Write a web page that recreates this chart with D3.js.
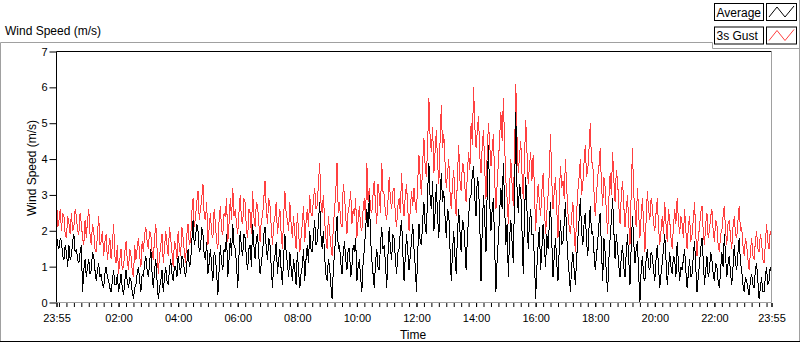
<!DOCTYPE html>
<html>
<head>
    <meta charset="utf-8">
    <title>Wind Speed (m/s)</title>
    <script src="https://d3js.org/d3.v7.min.js"></script>
    <style>
        body {
            margin: 0;
            background: #fff;
            font-family: "Liberation Sans", Arial, sans-serif;
        }

        svg text {
            fill: #000;
        }

        .axis path {
            display: none;
        }

        .axis line {
            stroke: #000;
        }

        .plot-line {
            shape-rendering: crispEdges;
        }
    </style>
</head>
<body>
    <div id="chart"></div>
    <script>
        // one sample every 2.5 minutes, from 23:55 to 23:55 the next day
        const stepMinutes = 2.5

        // 3s gust (m/s), one row per hour
        const gust = [
            2.9, 2.1, 2.3, 2.6, 2.0, 2.5, 2.4, 1.9, 1.8, 2.4, 2.2, 1.9, 2.5, 2.0, 2.1, 2.6, 2.4, 2.0, 1.9, 2.5, 2.2, 1.8, 1.6, 2.3,
            1.8, 2.3, 2.6, 1.9, 1.6, 2.2, 2.0, 1.5, 1.4, 1.9, 2.4, 1.6, 1.7, 2.0, 1.3, 1.7, 1.9, 1.2, 1.5, 1.8, 1.2, 1.6, 2.2, 1.3,
            1.1, 1.6, 0.8, 1.2, 1.5, 0.9, 1.0, 1.4, 1.7, 1.2, 0.9, 1.5, 1.3, 0.9, 0.7, 1.6, 1.2, 1.5, 1.8, 1.3, 1.0, 1.7, 1.4, 1.9,
            2.1, 1.7, 1.5, 2.0, 1.9, 1.4, 1.2, 1.8, 2.2, 1.5, 0.8, 1.3, 1.6, 1.9, 1.1, 1.5, 2.0, 1.6, 1.3, 2.1, 1.8, 1.4, 1.0, 1.7,
            1.6, 1.2, 2.0, 1.5, 1.3, 2.1, 1.8, 1.4, 1.1, 1.9, 2.2, 1.6, 1.7, 2.5, 2.9, 2.1, 2.4, 2.8, 3.1, 2.3, 2.6, 2.9, 3.3, 2.4,
            2.3, 2.8, 1.6, 2.1, 2.5, 1.9, 1.8, 2.6, 2.2, 1.7, 1.5, 2.3, 2.7, 2.0, 1.9, 2.5, 2.4, 2.9, 1.7, 2.2, 2.9, 2.3, 3.2, 2.4,
            2.6, 2.2, 1.9, 2.5, 3.0, 2.3, 2.2, 2.9, 2.8, 2.0, 1.8, 2.6, 2.5, 1.9, 3.1, 2.4, 2.1, 2.8, 2.7, 2.2, 1.7, 2.3, 2.4, 2.9,
            3.4, 2.6, 2.2, 2.9, 2.7, 2.1, 1.6, 2.2, 2.4, 2.8, 1.9, 2.3, 2.6, 1.9, 1.5, 2.4, 3.1, 2.5, 2.3, 2.0, 2.8, 2.2, 1.8, 2.4,
            1.9, 1.5, 2.5, 2.0, 1.4, 1.8, 2.2, 2.7, 1.7, 2.2, 2.6, 2.1, 3.0, 2.5, 2.4, 2.9, 3.2, 2.6, 2.7, 3.3, 3.9, 2.8, 2.5, 3.0,
            2.3, 1.8, 1.5, 2.4, 2.0, 1.6, 1.3, 2.1, 2.6, 3.1, 3.9, 2.5, 2.8, 2.2, 2.1, 3.3, 3.0, 2.4, 1.9, 2.6, 2.7, 3.1, 2.2, 2.6,
            2.4, 2.9, 1.8, 2.3, 2.7, 2.1, 2.0, 2.6, 2.9, 2.3, 3.9, 2.8, 3.2, 2.6, 2.5, 3.0, 3.4, 2.7, 2.2, 3.3, 3.0, 2.5, 3.9, 3.1,
            3.0, 2.5, 2.3, 2.8, 3.5, 2.9, 2.6, 3.1, 3.2, 2.4, 2.1, 2.7, 2.9, 2.5, 3.6, 2.8, 2.4, 3.0, 3.3, 2.6, 2.0, 2.6, 3.1, 2.7,
            3.2, 2.7, 2.5, 3.4, 4.1, 3.5, 3.0, 3.9, 4.6, 3.8, 3.5, 4.4, 5.7, 4.6, 4.2, 4.9, 3.6, 4.2, 4.8, 3.9, 3.3, 4.5, 5.5, 4.3,
            4.7, 3.9, 3.2, 3.6, 4.0, 3.1, 2.6, 3.3, 3.7, 2.9, 2.4, 3.5, 4.4, 3.4, 3.1, 3.9, 3.8, 3.2, 2.8, 3.6, 4.2, 3.7, 5.0, 4.4,
            6.0, 4.9, 4.3, 4.8, 5.2, 4.1, 3.6, 4.4, 4.8, 3.7, 2.9, 4.2, 5.0, 4.4, 3.8, 4.3, 4.7, 3.4, 2.6, 3.3, 3.9, 4.6, 5.3, 4.5,
            5.7, 4.4, 3.4, 2.9, 2.2, 3.2, 4.0, 3.3, 2.7, 4.1, 6.1, 4.6, 3.6, 4.1, 4.5, 3.6, 2.9, 4.0, 5.1, 4.2, 3.3, 3.8, 4.2, 3.4,
            4.1, 3.2, 2.0, 2.7, 3.3, 2.8, 2.4, 3.1, 3.6, 2.7, 1.9, 2.5, 3.0, 3.6, 4.7, 3.4, 2.6, 3.1, 3.5, 2.6, 1.8, 2.9, 3.8, 3.2,
            3.4, 2.9, 4.0, 3.2, 2.5, 2.1, 1.9, 2.4, 2.8, 2.0, 1.4, 2.5, 3.1, 3.5, 4.0, 3.0, 3.3, 3.9, 4.4, 3.5, 3.7, 4.3, 5.0, 3.9,
            3.9, 3.1, 2.4, 3.0, 3.5, 3.8, 4.3, 3.3, 2.7, 3.5, 3.2, 2.5, 1.9, 2.9, 3.6, 3.0, 4.2, 3.4, 2.8, 3.7, 3.4, 2.7, 2.2, 3.0,
            3.4, 2.7, 2.1, 2.6, 3.0, 2.2, 1.6, 3.1, 4.3, 3.0, 2.6, 2.1, 3.2, 2.5, 1.8, 2.4, 2.9, 2.2, 1.4, 2.3, 3.1, 2.6, 2.3, 2.9,
            2.7, 2.2, 2.0, 2.5, 2.9, 2.1, 1.6, 2.0, 2.4, 1.9, 2.8, 2.2, 1.7, 2.6, 2.3, 1.8, 1.5, 2.1, 2.6, 2.2, 2.9, 2.3, 1.9, 2.4,
            2.2, 1.8, 2.6, 2.0, 1.5, 2.1, 2.4, 1.7, 1.9, 2.3, 2.8, 1.9, 1.3, 1.8, 2.1, 2.5, 2.7, 2.0, 1.6, 2.2, 2.5, 1.8, 2.0, 2.4,
            2.6, 2.0, 1.7, 2.3, 2.2, 1.6, 1.4, 1.9, 2.0, 2.4, 2.7, 2.0, 1.6, 2.2, 2.3, 1.8, 1.5, 2.1, 2.4, 1.9, 1.8, 2.3, 2.7, 2.0,
            2.1, 1.6, 1.3, 1.8, 1.6, 1.2, 0.9, 1.4, 1.8, 1.3, 1.2, 1.7, 2.0, 1.5, 1.4, 1.9, 1.7, 1.2, 1.1, 1.6, 2.2, 1.7, 1.5, 2.0,
            1.8
        ]

        // average (m/s), one row per hour
        const average = [
            1.9, 1.6, 1.5, 1.8, 1.7, 1.3, 1.2, 1.6, 1.4, 1.0, 1.6, 1.2, 1.3, 1.7, 1.9, 1.4, 1.5, 1.2, 1.1, 1.4, 1.6, 0.3, 0.9, 1.2,
            0.7, 1.0, 1.2, 0.8, 0.9, 1.4, 1.3, 0.9, 0.6, 0.9, 1.1, 0.7, 0.8, 0.5, 0.4, 0.8, 1.0, 0.7, 0.6, 0.4, 0.3, 0.6, 0.9, 0.5,
            0.5, 0.8, 0.3, 0.5, 0.8, 0.4, 0.2, 0.6, 0.9, 0.6, 0.4, 0.7, 0.6, 0.3, 0.1, 0.4, 0.5, 0.8, 1.0, 0.6, 0.3, 0.8, 0.7, 1.1,
            1.3, 0.9, 0.7, 1.1, 1.5, 0.8, 0.4, 0.9, 1.2, 0.6, 0.1, 0.4, 0.6, 0.9, 0.3, 0.7, 1.0, 0.6, 0.5, 0.9, 1.2, 0.8, 0.6, 1.0,
            1.0, 0.7, 1.3, 1.0, 0.8, 1.3, 1.2, 0.9, 0.7, 1.1, 1.5, 1.0, 1.1, 1.7, 2.3, 1.6, 1.8, 2.2, 2.0, 1.4, 1.5, 2.1, 1.9, 1.3,
            1.2, 1.7, 0.8, 1.1, 1.5, 1.0, 0.6, 1.4, 1.3, 0.8, 0.2, 0.9, 1.6, 1.1, 0.9, 1.5, 1.4, 1.9, 0.7, 1.2, 1.8, 1.3, 2.2, 1.6,
            1.5, 1.1, 0.4, 1.3, 2.0, 1.5, 1.3, 1.9, 1.8, 1.2, 0.9, 1.5, 1.6, 1.0, 2.2, 1.6, 1.2, 1.8, 1.9, 1.3, 0.8, 1.1, 1.4, 1.9,
            2.1, 1.5, 1.2, 1.8, 1.6, 1.0, 0.4, 1.1, 1.3, 1.7, 0.8, 1.2, 1.5, 0.9, 0.5, 1.3, 1.9, 1.4, 1.1, 0.7, 1.4, 1.0, 0.6, 1.2,
            0.9, 0.5, 1.4, 0.9, 0.4, 0.8, 1.0, 1.5, 0.6, 1.2, 1.6, 1.1, 2.0, 1.5, 1.4, 1.9, 2.3, 1.6, 1.7, 2.2, 2.8, 1.9, 1.5, 2.0,
            1.3, 0.8, 0.6, 1.2, 1.0, 0.5, 0.1, 0.9, 1.4, 1.9, 2.4, 1.5, 1.6, 1.1, 0.8, 1.4, 1.7, 1.2, 0.9, 1.5, 1.5, 0.7, 1.0, 1.6,
            1.4, 1.8, 0.6, 1.0, 1.2, 0.7, 0.3, 1.1, 1.5, 2.0, 2.6, 2.1, 3.0, 1.8, 1.2, 0.8, 0.4, 1.1, 1.5, 1.0, 0.9, 1.6, 2.1, 1.5,
            1.6, 1.1, 0.4, 1.3, 2.1, 1.5, 1.2, 1.9, 1.8, 1.2, 0.8, 1.4, 1.5, 2.0, 2.3, 1.4, 0.6, 1.3, 1.9, 1.4, 0.9, 1.3, 1.7, 2.2,
            1.5, 1.0, 0.3, 1.4, 2.2, 1.7, 1.6, 2.3, 2.8, 2.1, 1.9, 3.1, 3.9, 2.9, 2.6, 3.4, 2.0, 2.5, 3.3, 2.4, 1.8, 2.9, 3.6, 2.8,
            3.1, 2.4, 1.8, 2.6, 2.5, 1.5, 0.6, 1.4, 2.0, 1.3, 0.8, 1.9, 2.6, 2.0, 1.4, 2.3, 2.2, 1.6, 0.9, 1.8, 2.4, 2.9, 3.0, 3.6,
            3.8, 2.9, 2.4, 3.5, 3.3, 2.2, 0.6, 2.1, 3.0, 2.3, 1.4, 3.2, 4.4, 2.8, 2.0, 2.6, 2.9, 1.5, 0.3, 1.2, 1.8, 2.5, 3.2, 2.6,
            3.9, 2.7, 1.6, 2.2, 0.7, 1.8, 2.3, 1.7, 1.1, 3.0, 5.3, 3.2, 2.5, 3.3, 3.1, 2.0, 0.8, 2.4, 3.5, 2.6, 1.5, 2.2, 2.6, 1.9,
            1.9, 1.2, 0.1, 1.0, 1.6, 2.1, 0.9, 1.5, 2.2, 1.6, 1.0, 1.9, 1.5, 2.2, 2.8, 1.7, 0.7, 1.3, 1.8, 1.1, 0.6, 1.5, 2.3, 1.6,
            1.7, 2.2, 2.8, 1.9, 1.2, 0.8, 0.3, 1.0, 1.4, 0.9, 0.5, 1.2, 1.8, 2.3, 2.9, 2.0, 1.6, 2.2, 2.5, 1.7, 1.3, 2.1, 2.7, 1.9,
            2.0, 1.4, 0.9, 1.3, 1.7, 2.2, 2.5, 1.5, 0.6, 1.8, 1.4, 0.8, 0.3, 1.2, 1.8, 2.3, 2.9, 2.0, 1.2, 1.9, 1.5, 1.0, 0.7, 1.3,
            1.6, 1.0, 0.7, 1.4, 1.9, 1.2, 0.5, 1.6, 2.4, 1.7, 1.1, 1.5, 1.7, 0.8, 0.0, 0.9, 1.3, 0.7, 0.6, 1.2, 1.5, 1.0, 0.9, 1.4,
            1.3, 0.9, 0.6, 1.2, 1.6, 1.0, 0.4, 0.8, 1.1, 1.5, 1.9, 1.2, 0.5, 0.9, 1.4, 1.0, 0.8, 1.3, 1.2, 0.7, 1.7, 1.1, 0.6, 1.0,
            0.9, 1.2, 1.5, 0.9, 0.4, 0.8, 1.2, 0.7, 0.8, 1.3, 1.7, 1.0, 0.3, 0.7, 1.1, 1.5, 1.8, 1.2, 0.5, 0.9, 1.3, 0.7, 0.9, 1.4,
            1.2, 0.8, 0.6, 1.1, 1.0, 0.6, 0.4, 0.9, 1.4, 1.0, 1.9, 1.3, 0.7, 1.1, 1.3, 0.8, 0.5, 1.0, 1.6, 1.1, 0.9, 1.4, 1.8, 1.1,
            0.9, 0.5, 0.3, 0.7, 0.6, 0.4, 0.2, 0.6, 0.8, 0.5, 0.4, 0.9, 1.1, 0.6, 0.1, 0.4, 0.7, 0.3, 0.3, 0.7, 1.0, 0.5, 0.6, 1.0,
            0.8
        ]

        const timeLabels = ["23:55", "02:00", "04:00", "06:00", "08:00", "10:00", "12:00",
            "14:00", "16:00", "18:00", "20:00", "22:00", "23:55"]
        const speedTicks = [0, 1, 2, 3, 4, 5, 6, 7]

        const t0 = new Date(2000, 0, 1, 23, 55)
        const t1 = new Date(2000, 0, 2, 23, 55)

        const svg = d3.select("#chart").append("svg")
            .attr("width", 800)
            .attr("height", 342)
            .style("display", "block")

        const x = d3.scaleTime().domain([t0, t1]).range([56.5, 771.5])
        const y = d3.scaleLinear().domain([0, 7]).range([302.5, 51.5])

        // outer frame
        svg.append("path")
            .attr("d", "M0.5,341V42.5H712.5V48.5H799.5M799.5,0V341")
            .attr("fill", "none")
            .attr("stroke", "#a0a0a0")
        svg.append("line")
            .attr("x1", 0).attr("x2", 800)
            .attr("y1", 341.5).attr("y2", 341.5)
            .attr("stroke", "#000")

        svg.append("text")
            .attr("x", 5)
            .attr("y", 35)
            .style("font-size", "12px")
            .text("Wind Speed (m/s)")

        // legend
        const legend = svg.append("g").attr("id", "legend")
        const legendItems = [
            { name: "Average", color: "#000" },
            { name: "3s Gust", color: "#ff4040" }
        ]
        legendItems.forEach((item, i) => {
            const g = legend.append("g").attr("transform", `translate(0,${i * 23.5})`)
            g.append("rect")
                .attr("x", 714.5).attr("y", 3.5)
                .attr("width", 49).attr("height", 17)
                .attr("fill", "#fff").attr("stroke", "#000")
            g.append("text")
                .attr("x", 716.5).attr("y", 16.5)
                .style("font-size", "12px")
                .text(item.name)
            g.append("rect")
                .attr("x", 766.5).attr("y", 3.5)
                .attr("width", 30).attr("height", 17)
                .attr("fill", "#fff").attr("stroke", "#000")
            g.append("polyline")
                .attr("points", "769,17 777,7 785,17 794,6")
                .attr("fill", "none")
                .attr("stroke", item.color)
        })

        // data lines
        const times = gust.map((d, i) => new Date(t0.getTime() + i * stepMinutes * 60000))

        const line = d3.line()
            .x((d, i) => x(times[i]))
            .y((d) => y(d))

        svg.append("path")
            .datum(gust)
            .attr("class", "plot-line")
            .attr("fill", "none")
            .attr("stroke", "#ff4040")
            .attr("stroke-width", 1)
            .attr("d", line)

        svg.append("path")
            .datum(average)
            .attr("class", "plot-line")
            .attr("fill", "none")
            .attr("stroke", "#000")
            .attr("stroke-width", 1)
            .attr("d", line)

        // plot frame: black top/left, grey bottom/right
        svg.append("path")
            .attr("d", `M${x.range()[0]},${y.range()[0]}V${y.range()[1]}H${x.range()[1]}`)
            .attr("fill", "none")
            .attr("stroke", "#000")
        svg.append("path")
            .attr("d", `M${x.range()[0]},${y.range()[0]}H${x.range()[1]}V${y.range()[1]}`)
            .attr("fill", "none")
            .attr("stroke", "#a0a0a0")

        // y axis
        svg.append("g")
            .attr("class", "axis")
            .attr("transform", `translate(${x.range()[0]},0)`)
            .call(d3.axisLeft(y).tickValues(speedTicks).tickSize(7).tickPadding(2).tickFormat(d3.format("d")))
            .selectAll("text")
            .style("font-size", "11px")
            .style("font-family", "'Liberation Sans', Arial, sans-serif")

        svg.append("text")
            .attr("transform", "translate(36,168) rotate(-90)")
            .attr("text-anchor", "middle")
            .style("font-size", "12px")
            .text("Wind Speed (m/s)")

        // x axis, minor ticks every 15 min
        const minorTicks = d3.timeMinute.every(15).range(t0, t1).concat([t0, t1])
        svg.append("g")
            .attr("class", "axis")
            .attr("transform", `translate(0,${y.range()[0] + 0.5})`)
            .call(d3.axisBottom(x).tickValues(minorTicks).tickSize(4).tickFormat(""))

        const labelDates = timeLabels.map((s, i) => {
            const [h, m] = s.split(":").map(Number)
            return new Date(2000, 0, i == 0 ? 1 : 2, h, m)
        })
        svg.append("g")
            .attr("class", "axis")
            .attr("transform", `translate(0,${y.range()[0] + 0.5})`)
            .call(d3.axisBottom(x).tickValues(labelDates).tickSize(4).tickPadding(7)
                .tickFormat((d, i) => timeLabels[i]))
            .selectAll("text")
            .style("font-size", "11px")
            .style("font-family", "'Liberation Sans', Arial, sans-serif")

        svg.append("text")
            .attr("x", 413)
            .attr("y", 339)
            .attr("text-anchor", "middle")
            .style("font-size", "12px")
            .text("Time")
    </script>
</body>
</html>
